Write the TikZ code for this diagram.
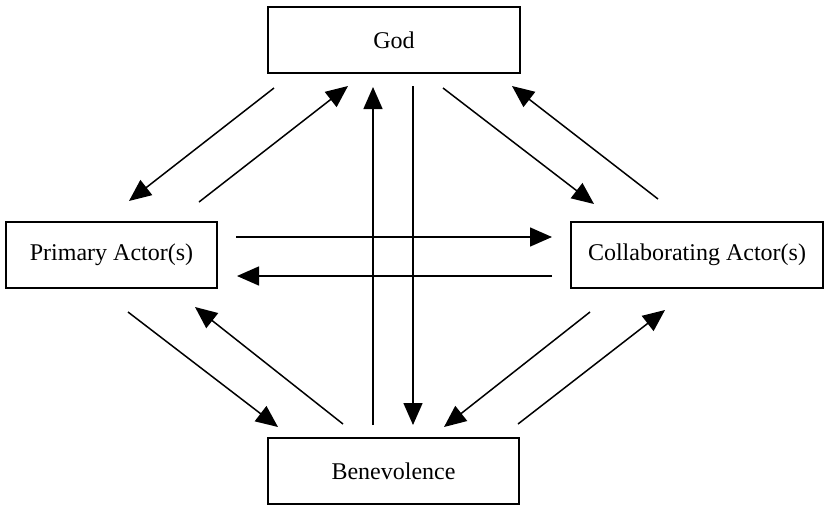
\documentclass[tikz,border=0pt]{standalone}
\usepackage{fontspec}
\setmainfont{Liberation Serif}
\usetikzlibrary{arrows.meta}
\tikzset{
  box/.style={draw=black, line width=2pt, fill=white, inner sep=0pt, minimum height=66pt, font=\fontsize{24}{28}\selectfont},
  conn/.style={line width=1.5pt, -{Triangle[length=22pt,width=19pt]}}
}
\begin{document}
\begin{tikzpicture}[x=1pt,y=-1pt]
\useasboundingbox (0,0) rectangle (824,507);
\node[box, minimum width=252pt] (god) at (394,40) {God};
\node[box, minimum width=211pt] (prim) at (111.5,255) {Primary Actor(s)};
\node[box, minimum width=252pt] (coll) at (697,255) {Collaborating Actor(s)};
\node[box, minimum width=251pt] (ben) at (393.5,471) {Benevolence};
% endpoints
\coordinate (gp1) at (274,88);   \coordinate (gp2) at (129,201);
\coordinate (pg1) at (199,202);  \coordinate (pg2) at (348,86);
\coordinate (bg1) at (373,425);  \coordinate (bg2) at (373,87);
\coordinate (gb1) at (413,86);   \coordinate (gb2) at (413,425);
\coordinate (gc1) at (443,88);   \coordinate (gc2) at (594,204);
\coordinate (cg1) at (658,199);  \coordinate (cg2) at (512,86);
\coordinate (pc1) at (236,237);  \coordinate (pc2) at (552,237);
\coordinate (cp1) at (552,276);  \coordinate (cp2) at (237,276);
\coordinate (pb1) at (128,312);  \coordinate (pb2) at (278,427);
\coordinate (bp1) at (343,424);  \coordinate (bp2) at (195,307);
\coordinate (cb1) at (590,312);  \coordinate (cb2) at (444,427);
\coordinate (bc1) at (518,424);  \coordinate (bc2) at (665,310);
\draw[conn] (gp1) -- (gp2);
\draw[conn] (pg1) -- (pg2);
\draw[conn] (bg1) -- (bg2);
\draw[conn] (gb1) -- (gb2);
\draw[conn] (gc1) -- (gc2);
\draw[conn] (cg1) -- (cg2);
\draw[conn] (pc1) -- (pc2);
\draw[conn] (cp1) -- (cp2);
\draw[conn] (pb1) -- (pb2);
\draw[conn] (bp1) -- (bp2);
\draw[conn] (cb1) -- (cb2);
\draw[conn] (bc1) -- (bc2);
\end{tikzpicture}
\end{document}
